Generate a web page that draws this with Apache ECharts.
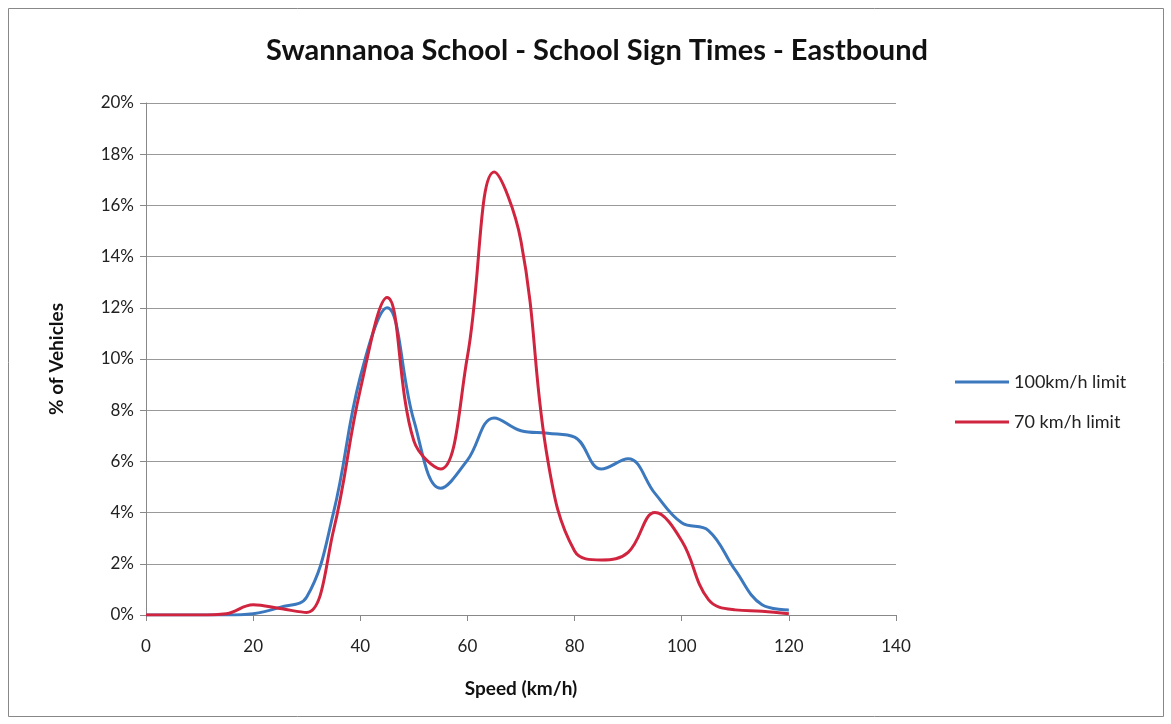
<!DOCTYPE html>
<html><head><meta charset="utf-8">
<script src="https://cdn.jsdelivr.net/npm/echarts@6/dist/echarts.min.js"></script>
<style>html,body{margin:0;padding:0;background:#fff}#c{width:1171px;height:724px}</style>
</head><body><div id="c"></div>
<script>
const speeds = [0,5,10,15,20,25,30,35,40,45,50,55,60,65,70,75,80,85,90,95,100,105,110,115,120];
const limit100 = [0,0,0,0,0.05,0.3,0.7,4.0,9.3,12.0,7.6,4.95,6.05,7.7,7.2,7.1,6.95,5.7,6.1,4.75,3.6,3.3,1.75,0.4,0.2];
const limit70  = [0,0,0,0.05,0.4,0.25,0.1,3.3,8.8,12.4,6.8,5.7,10.1,17.3,14.6,6.05,2.5,2.15,2.45,4.0,2.9,0.6,0.2,0.15,0.05];
const seriesNames = ['100km/h limit','70 km/h limit'];

const font = 'Lato, "Open Sans", sans-serif';
const chart = echarts.init(document.getElementById('c'));
chart.setOption({
  animation:false,
  backgroundColor:'#fff',
  title:{text:'Swannanoa School - School Sign Times - Eastbound',left:592,textAlign:'center',top:31,
    textStyle:{fontFamily:font,fontSize:29,fontWeight:'bold',color:'#111'}},
  graphic:[{type:'rect',shape:{x:8.5,y:8.5,width:1155,height:708},style:{fill:'none',stroke:'#888',lineWidth:1}}],
  legend:{orient:'vertical',left:950,top:368,itemGap:22,itemWidth:54,itemHeight:3,icon:'rect',
    textStyle:{fontFamily:font,fontSize:18,color:'#222'},data:seriesNames},
  grid:{left:146,right:275,top:103,bottom:109},
  xAxis:{type:'value',min:0,max:140,interval:20,
    name:'Speed (km/h)',nameLocation:'middle',nameGap:64,
    nameTextStyle:{fontFamily:font,fontSize:19,fontWeight:'bold',color:'#111'},
    axisLine:{show:true,lineStyle:{color:'#888'}},
    axisTick:{show:true,length:6,lineStyle:{color:'#888'}},
    axisLabel:{fontFamily:font,fontSize:17,color:'#222',margin:23},
    splitLine:{show:false}},
  yAxis:{type:'value',min:0,max:20,interval:2,
    name:'% of Vehicles',nameLocation:'middle',nameGap:80,nameRotate:90,
    nameTextStyle:{fontFamily:font,fontSize:19,fontWeight:'bold',color:'#111'},
    axisLine:{show:true,lineStyle:{color:'#888'}},
    axisTick:{show:true,length:6,lineStyle:{color:'#888'}},
    axisLabel:{fontFamily:font,fontSize:17,color:'#222',margin:12,formatter:v=>v+'%'},
    splitLine:{show:true,lineStyle:{color:'#999',width:1}}},
  series:[
    {name:seriesNames[0],type:'line',smooth:0.4,showSymbol:false,
     data:speeds.map((s,i)=>[s,limit100[i]]),lineStyle:{width:3,color:'#3C78BE'},itemStyle:{color:'#3C78BE'}},
    {name:seriesNames[1],type:'line',smooth:0.4,showSymbol:false,
     data:speeds.map((s,i)=>[s,limit70[i]]),lineStyle:{width:3,color:'#D0243F'},itemStyle:{color:'#D0243F'}}
  ]
});
</script></body></html>
